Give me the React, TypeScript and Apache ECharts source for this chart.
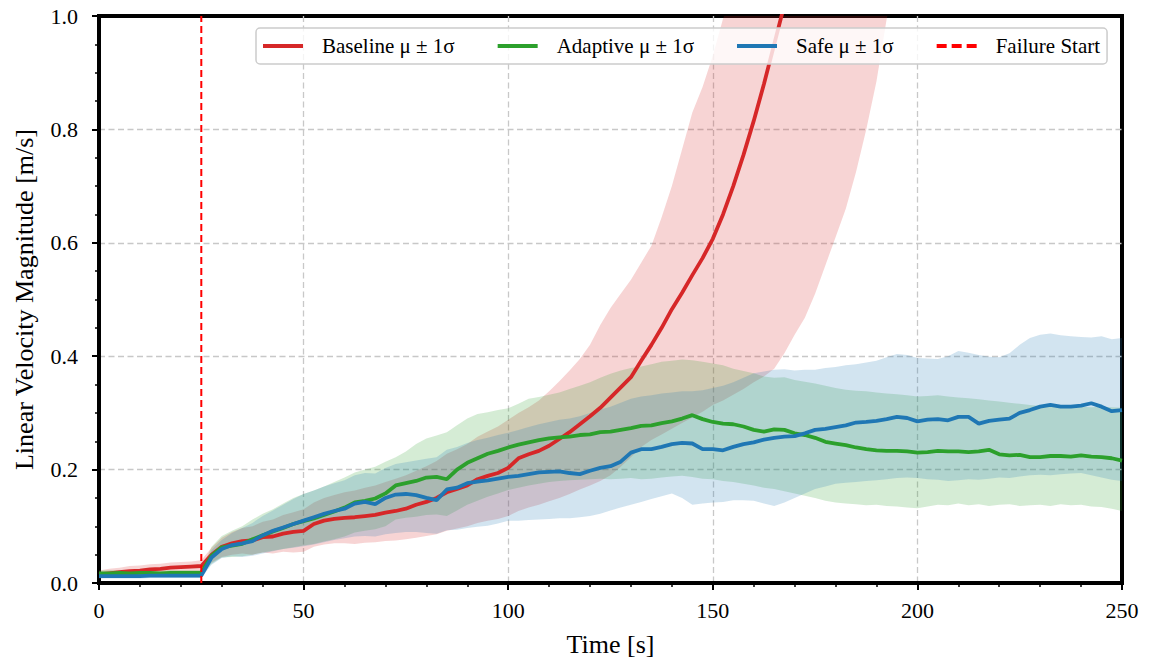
import React, { useEffect, useRef } from "react";
import * as echarts from "echarts";

// sample times (s), 2.5 s apart
const TIME: number[] = Array.from({ length: 101 }, (_, i) => i * 2.5);

const X_TICKS = [0, 50, 100, 150, 200, 250];
const Y_TICKS = [0.0, 0.2, 0.4, 0.6, 0.8, 1.0];
const FAILURE_T = 25;

// Baseline (red)
const BASE_MEAN = [
  0.015, 0.017, 0.019, 0.021, 0.022, 0.024, 0.025, 0.027, 0.028, 0.029, 0.03,
  0.05, 0.064, 0.07, 0.074, 0.075, 0.081, 0.082, 0.087, 0.09, 0.092,
  0.104, 0.11, 0.113, 0.115, 0.116, 0.118, 0.12, 0.124, 0.127, 0.131,
  0.138, 0.143, 0.15, 0.16, 0.166, 0.172, 0.183, 0.189, 0.194, 0.203,
  0.22, 0.227, 0.233, 0.242, 0.254, 0.266, 0.28, 0.294, 0.309, 0.327,
  0.345, 0.363, 0.392, 0.42, 0.45, 0.483, 0.512, 0.543, 0.573, 0.607,
  0.65, 0.7, 0.755, 0.815, 0.88, 0.95, 1.02, 1.1, 1.18,
];
const BASE_UPPER = [
  0.022, 0.025, 0.027, 0.03, 0.031, 0.033, 0.034, 0.036, 0.037, 0.038, 0.04,
  0.062, 0.08, 0.09, 0.097, 0.1, 0.108, 0.112, 0.12, 0.125, 0.13,
  0.142, 0.15, 0.155, 0.16, 0.163, 0.168, 0.172, 0.178, 0.184, 0.19,
  0.198, 0.206, 0.215, 0.228, 0.236, 0.245, 0.258, 0.267, 0.276, 0.288,
  0.3, 0.31, 0.322, 0.338, 0.356, 0.375, 0.395, 0.42, 0.455, 0.485,
  0.51, 0.535, 0.565, 0.595, 0.645, 0.7, 0.765, 0.83, 0.875, 0.93,
  0.995, 1.05, 1.11, 1.18,
];
const BASE_LOWER = [
  0.008, 0.01, 0.011, 0.012, 0.013, 0.015, 0.016, 0.017, 0.019, 0.02, 0.021,
  0.036, 0.046, 0.05, 0.052, 0.05, 0.054, 0.052, 0.055, 0.054, 0.055,
  0.064, 0.068, 0.07, 0.07, 0.069, 0.071, 0.072, 0.074, 0.075, 0.077,
  0.08, 0.083, 0.086, 0.092, 0.096, 0.1, 0.106, 0.11, 0.113, 0.118,
  0.127, 0.133, 0.138, 0.144, 0.15, 0.157, 0.165, 0.172, 0.18, 0.19,
  0.205, 0.222, 0.24, 0.252, 0.262, 0.272, 0.282, 0.292, 0.302, 0.314,
  0.322, 0.332, 0.342, 0.354, 0.364, 0.378, 0.405, 0.438, 0.468, 0.51,
  0.56, 0.61, 0.66, 0.725, 0.8, 0.885, 0.995, 1.07, 1.15, 1.23,
];

// Adaptive (green)
const ADAPT_MEAN = [
  0.017, 0.017, 0.018, 0.017, 0.018, 0.018, 0.017, 0.018, 0.018, 0.018, 0.018,
  0.048, 0.063, 0.066, 0.069, 0.077, 0.084, 0.091, 0.097, 0.104, 0.109,
  0.114, 0.12, 0.126, 0.133, 0.142, 0.145, 0.149, 0.158, 0.172, 0.176,
  0.18, 0.186, 0.187, 0.183, 0.2, 0.212, 0.22, 0.228, 0.233, 0.239,
  0.244, 0.248, 0.252, 0.255, 0.257, 0.258, 0.261, 0.262, 0.266, 0.267,
  0.27, 0.273, 0.277, 0.278, 0.282, 0.285, 0.29, 0.296, 0.289, 0.284,
  0.281, 0.28, 0.276, 0.27, 0.267, 0.271, 0.27, 0.264, 0.261, 0.256,
  0.249, 0.246, 0.243, 0.239, 0.236, 0.234, 0.233, 0.233, 0.232, 0.23,
  0.231, 0.233, 0.232, 0.232, 0.231, 0.232, 0.235, 0.227, 0.225, 0.226,
  0.222, 0.222, 0.224, 0.224, 0.223, 0.225, 0.223, 0.222, 0.22, 0.216,
];
const ADAPT_UPPER = [
  0.022, 0.023, 0.023, 0.022, 0.023, 0.023, 0.022, 0.023, 0.023, 0.023, 0.023,
  0.064, 0.083, 0.092, 0.1, 0.112, 0.122, 0.13, 0.14, 0.15, 0.157,
  0.163, 0.17, 0.178, 0.186, 0.195, 0.2, 0.205, 0.214, 0.222, 0.232,
  0.245, 0.255, 0.26, 0.266, 0.278, 0.29, 0.298, 0.301, 0.305, 0.308,
  0.316, 0.325, 0.328, 0.332, 0.336, 0.342, 0.348, 0.354, 0.362, 0.369,
  0.375, 0.379, 0.382, 0.386, 0.39, 0.392, 0.394, 0.393, 0.39, 0.387,
  0.384, 0.378, 0.374, 0.37, 0.364, 0.362, 0.363, 0.358, 0.355, 0.352,
  0.348, 0.344, 0.341, 0.339, 0.338, 0.336, 0.334, 0.333, 0.331, 0.329,
  0.33, 0.331, 0.329, 0.327, 0.326, 0.324, 0.322, 0.32, 0.318, 0.316,
  0.314, 0.312, 0.311, 0.312, 0.31, 0.311, 0.31, 0.311, 0.31, 0.309,
];
const ADAPT_LOWER = [
  0.012, 0.012, 0.013, 0.012, 0.013, 0.013, 0.012, 0.013, 0.013, 0.013, 0.013,
  0.034, 0.045, 0.046, 0.047, 0.05, 0.054, 0.057, 0.06, 0.063, 0.066,
  0.069, 0.073, 0.077, 0.082, 0.089, 0.092, 0.095, 0.1, 0.112, 0.115,
  0.117, 0.12, 0.121, 0.118, 0.128, 0.138, 0.145, 0.152, 0.158, 0.164,
  0.168, 0.172, 0.175, 0.178, 0.18, 0.181, 0.182, 0.183, 0.184, 0.183,
  0.184, 0.185, 0.183, 0.184, 0.186, 0.188, 0.189, 0.187, 0.184, 0.183,
  0.18, 0.178, 0.175, 0.172, 0.168, 0.166, 0.162, 0.158, 0.154, 0.15,
  0.145, 0.142, 0.14, 0.139, 0.137, 0.138, 0.136, 0.135, 0.133, 0.132,
  0.135, 0.138, 0.137, 0.14, 0.137, 0.139, 0.136, 0.138, 0.139, 0.136,
  0.137, 0.138, 0.136, 0.139, 0.137, 0.138, 0.135, 0.134, 0.131, 0.127,
];

// Safe (blue)
const SAFE_MEAN = [
  0.012, 0.012, 0.012, 0.012, 0.012, 0.013, 0.013, 0.013, 0.013, 0.013, 0.013,
  0.045, 0.06, 0.067, 0.07, 0.074, 0.084, 0.092, 0.098, 0.104, 0.11,
  0.116, 0.122, 0.127, 0.131, 0.14, 0.143, 0.139, 0.15, 0.156, 0.157,
  0.155, 0.15, 0.146, 0.165, 0.168, 0.176, 0.179, 0.181, 0.184, 0.187,
  0.189, 0.192, 0.195, 0.196, 0.197, 0.194, 0.192, 0.198, 0.203, 0.206,
  0.214, 0.23, 0.236, 0.236, 0.24, 0.245, 0.247, 0.246, 0.236, 0.236,
  0.234, 0.24, 0.245, 0.248, 0.253, 0.256, 0.258, 0.259, 0.264, 0.27,
  0.272, 0.275, 0.278, 0.283, 0.284, 0.286, 0.289, 0.293, 0.291, 0.285,
  0.288, 0.289, 0.287, 0.293, 0.293, 0.281, 0.286, 0.288, 0.29, 0.3,
  0.305, 0.311, 0.314, 0.311, 0.311, 0.313, 0.317, 0.311, 0.303, 0.305,
];
const SAFE_UPPER = [
  0.016, 0.016, 0.016, 0.017, 0.016, 0.017, 0.017, 0.017, 0.017, 0.017, 0.017,
  0.058, 0.076, 0.088, 0.097, 0.106, 0.118, 0.128, 0.138, 0.148, 0.157,
  0.163, 0.17, 0.176, 0.181, 0.19, 0.194, 0.193, 0.203, 0.21, 0.213,
  0.216, 0.219, 0.222, 0.235, 0.24, 0.247, 0.252, 0.256, 0.261, 0.265,
  0.27, 0.275, 0.28, 0.284, 0.288, 0.29, 0.294, 0.3, 0.306, 0.311,
  0.318, 0.325, 0.329, 0.331, 0.334, 0.336, 0.338, 0.338, 0.34, 0.344,
  0.348, 0.354, 0.362, 0.37, 0.373, 0.376, 0.377, 0.375, 0.376, 0.376,
  0.379, 0.381, 0.384, 0.386, 0.389, 0.392, 0.398, 0.404, 0.402, 0.397,
  0.396, 0.395, 0.4, 0.409, 0.406, 0.402, 0.399, 0.398, 0.405, 0.42,
  0.432, 0.438, 0.44, 0.437, 0.435, 0.434, 0.433, 0.435, 0.43, 0.432,
];
const SAFE_LOWER = [
  0.008, 0.008, 0.008, 0.008, 0.008, 0.009, 0.009, 0.009, 0.009, 0.009, 0.009,
  0.032, 0.044, 0.047, 0.046, 0.048, 0.052, 0.056, 0.06, 0.062, 0.065,
  0.068, 0.072, 0.076, 0.079, 0.082, 0.083, 0.082, 0.086, 0.088, 0.09,
  0.09, 0.088, 0.087, 0.093, 0.094, 0.097, 0.099, 0.101, 0.105, 0.11,
  0.11, 0.111, 0.112, 0.113, 0.114, 0.114, 0.116, 0.118, 0.122, 0.128,
  0.133, 0.138, 0.143, 0.148, 0.153, 0.158, 0.15, 0.138, 0.14, 0.142,
  0.143, 0.146, 0.146, 0.145, 0.14, 0.136, 0.142, 0.15, 0.158, 0.166,
  0.17, 0.175, 0.177, 0.178, 0.18, 0.181, 0.183, 0.185, 0.186, 0.185,
  0.183, 0.182, 0.18, 0.181, 0.183, 0.182, 0.184, 0.186, 0.185, 0.188,
  0.19, 0.191, 0.19, 0.192, 0.193, 0.194, 0.19, 0.186, 0.182, 0.18,
];

const RED = "#d62728";
const GREEN = "#2ca02c";
const BLUE = "#1f77b4";
const FONT = "Liberation Serif";

const NAMES = ["Baseline μ ± 1σ", "Adaptive μ ± 1σ", "Safe μ ± 1σ", "Failure Start"];

const ICON_SOLID = "path://M0,0H40V4H0Z M54,2L54,2.01";
const ICON_DASH = "path://M0,0H10V4H0Z M15,0H25V4H15Z M30,0H40V4H30Z M54,2L54,2.01";

const pairs = (vals: number[]) => vals.map((v, i) => [TIME[i], v]);

function bandSeries(id: string, upper: number[], lower: number[], fill: string) {
  return {
    type: "custom",
    name: id,
    silent: true,
    z: 1,
    data: [[0, 0]],
    renderItem: (params: any, api: any) => {
      const pts: number[][] = [];
      upper.forEach((v, i) => pts.push(api.coord([TIME[i], v])));
      for (let i = lower.length - 1; i >= 0; i--) pts.push(api.coord([TIME[i], lower[i]]));
      const cs = params.coordSys;
      return {
        type: "polygon",
        shape: { points: pts },
        style: { fill },
        clipPath: { type: "rect", shape: { x: cs.x, y: cs.y, width: cs.width, height: cs.height } },
      };
    },
  };
}

function lineSeries(name: string, vals: number[], color: string) {
  return {
    type: "line",
    name,
    data: pairs(vals),
    showSymbol: false,
    symbol: "none",
    z: 3,
    clip: true,
    lineStyle: { color, width: 3.8 },
    itemStyle: { color },
  };
}

const splitLine = {
  show: true,
  showMinLine: false,
  showMaxLine: false,
  lineStyle: { color: "#c8c8c8", width: 1.3, type: [6, 3.5] },
};

export default function App() {
  const ref = useRef<HTMLDivElement>(null);
  useEffect(() => {
    if (!ref.current) return;
    const chart = echarts.init(ref.current, null, { renderer: "svg" });
    chart.setOption({
      animation: false,
      backgroundColor: "#fff",
      grid: {
        left: 99,
        top: 16,
        right: 29,
        bottom: 81,
        show: true,
        borderColor: "#000",
        borderWidth: 4,
        backgroundColor: "transparent",
      },
      legend: {
        data: [
          { name: NAMES[0], icon: ICON_SOLID },
          { name: NAMES[1], icon: ICON_SOLID },
          { name: NAMES[2], icon: ICON_SOLID },
          { name: NAMES[3], icon: ICON_DASH },
        ],
        left: 256,
        top: 28,
        itemWidth: 54,
        itemHeight: 4,
        itemGap: 43,
        padding: [7, 7, 7, 7],
        backgroundColor: "rgba(255,255,255,0.8)",
        borderColor: "#cccccc",
        borderWidth: 1.5,
        borderRadius: 4,
        itemStyle: { borderWidth: 0 },
        textStyle: { fontFamily: FONT, fontSize: 21, color: "#000", lineHeight: 22 },
        selectedMode: false,
      },
      xAxis: {
        type: "value",
        min: X_TICKS[0],
        max: X_TICKS[X_TICKS.length - 1],
        interval: 50,
        name: "Time [s]",
        nameLocation: "middle",
        nameGap: 48,
        nameTextStyle: { fontFamily: FONT, fontSize: 26, color: "#000" },
        axisLine: { show: true, onZero: false, lineStyle: { color: "#000", width: 4 } },
        axisTick: { show: true, length: 7, lineStyle: { color: "#000", width: 2 } },
        minorTick: { show: true, splitNumber: 5, length: 4, lineStyle: { color: "#000", width: 1.5 } },
        splitLine,
        axisLabel: { fontFamily: FONT, fontSize: 22, color: "#000", margin: 16 },
      },
      yAxis: {
        type: "value",
        min: Y_TICKS[0],
        max: Y_TICKS[Y_TICKS.length - 1],
        interval: 0.2,
        name: "Linear Velocity Magnitude [m/s]",
        nameLocation: "middle",
        nameGap: 62,
        nameTextStyle: { fontFamily: FONT, fontSize: 26, color: "#000" },
        axisLine: { show: true, onZero: false, lineStyle: { color: "#000", width: 4 } },
        axisTick: { show: true, length: 7, lineStyle: { color: "#000", width: 2 } },
        minorTick: { show: true, splitNumber: 4, length: 4, lineStyle: { color: "#000", width: 1.5 } },
        splitLine,
        axisLabel: {
          fontFamily: FONT,
          fontSize: 22,
          color: "#000",
          margin: 21,
          formatter: (v: number) => v.toFixed(1),
        },
      },
      series: [
        bandSeries("band-baseline", BASE_UPPER, BASE_LOWER, "rgba(214,39,40,0.2)"),
        bandSeries("band-adaptive", ADAPT_UPPER, ADAPT_LOWER, "rgba(44,160,44,0.2)"),
        bandSeries("band-safe", SAFE_UPPER, SAFE_LOWER, "rgba(31,119,180,0.2)"),
        lineSeries(NAMES[0], BASE_MEAN, RED),
        lineSeries(NAMES[1], ADAPT_MEAN, GREEN),
        lineSeries(NAMES[2], SAFE_MEAN, BLUE),
        {
          type: "line",
          name: NAMES[3],
          data: [
            [FAILURE_T, Y_TICKS[0]],
            [FAILURE_T, Y_TICKS[Y_TICKS.length - 1]],
          ],
          showSymbol: false,
          symbol: "none",
          z: 4,
          lineStyle: { color: "#ff0000", width: 2, type: [7, 4] },
          itemStyle: { color: "#ff0000" },
        },
      ],
    });
    return () => chart.dispose();
  }, []);
  return (
    <div
      ref={ref}
      style={{ position: "fixed", left: 0, top: 0, width: 1151, height: 664, background: "#fff" }}
    />
  );
}
